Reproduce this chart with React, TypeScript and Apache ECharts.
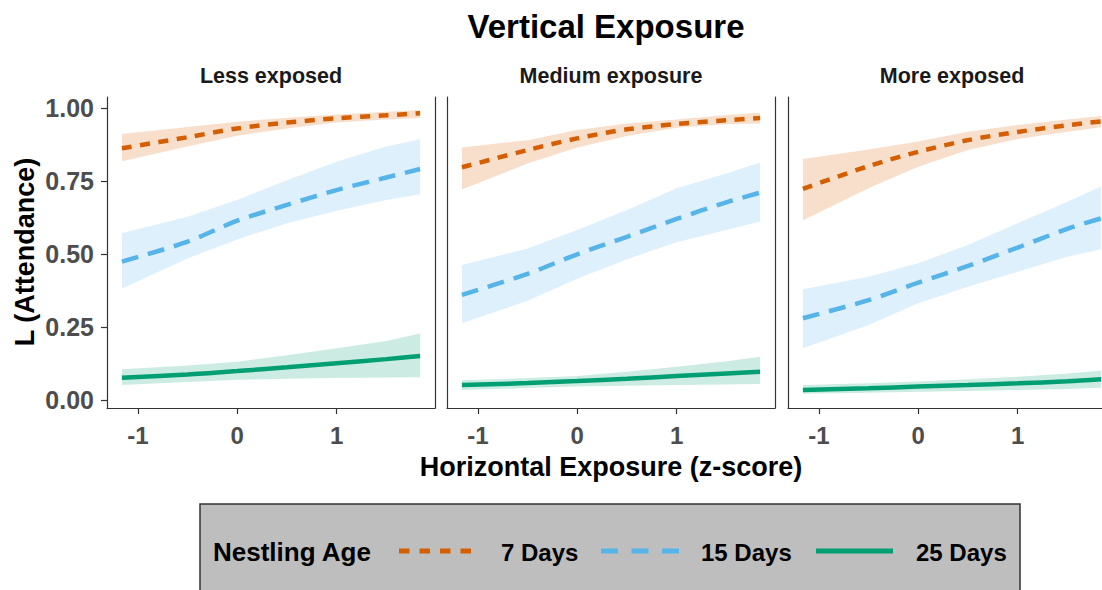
import React, { useEffect, useRef } from "react";
import * as echarts from "echarts";

const FONT = "'Liberation Sans', Arial, Helvetica, sans-serif";

const panelNames = ["Less exposed", "Medium exposure", "More exposed"];
const ageNames = ["7 Days", "15 Days", "25 Days"];
const ageColors = ["#D55E00", "#56B4E9", "#009E73"];
const yTicks = [0, 0.25, 0.5, 0.75, 1];
const xTicks = [-1, 0, 1];

// Horizontal exposure (z-score) at which the fitted curves are evaluated
const hExposure = [-1.16, -0.5, 0, 0.5, 1, 1.5, 1.84];

// Less exposed
const lessFit7 = [0.862, 0.9, 0.93, 0.95, 0.965, 0.975, 0.982];
const lessLo7 = [0.818, 0.868, 0.905, 0.93, 0.95, 0.961, 0.966];
const lessHi7 = [0.911, 0.935, 0.953, 0.967, 0.978, 0.987, 0.993];
const lessFit15 = [0.474, 0.542, 0.614, 0.668, 0.719, 0.762, 0.791];
const lessLo15 = [0.382, 0.485, 0.55, 0.605, 0.648, 0.685, 0.705];
const lessHi15 = [0.571, 0.628, 0.685, 0.753, 0.816, 0.868, 0.893];
const lessFit25 = [0.076, 0.087, 0.099, 0.112, 0.126, 0.14, 0.151];
const lessLo25 = [0.051, 0.062, 0.069, 0.073, 0.075, 0.077, 0.078];
const lessHi25 = [0.105, 0.118, 0.131, 0.153, 0.177, 0.202, 0.228];

// Medium exposure
const medFit7 = [0.797, 0.856, 0.896, 0.927, 0.945, 0.958, 0.966];
const medLo7 = [0.721, 0.81, 0.865, 0.904, 0.932, 0.944, 0.947];
const medHi7 = [0.865, 0.89, 0.925, 0.947, 0.961, 0.976, 0.984];
const medFit15 = [0.36, 0.432, 0.499, 0.559, 0.62, 0.677, 0.71];
const medLo15 = [0.263, 0.34, 0.415, 0.482, 0.54, 0.582, 0.611];
const medHi15 = [0.462, 0.519, 0.582, 0.651, 0.725, 0.776, 0.813];
const medFit25 = [0.051, 0.058, 0.065, 0.073, 0.082, 0.091, 0.097];
const medLo25 = [0.034, 0.041, 0.046, 0.049, 0.051, 0.053, 0.055];
const medHi25 = [0.068, 0.075, 0.082, 0.097, 0.114, 0.133, 0.148];

// More exposed
const moreFit7 = [0.723, 0.801, 0.85, 0.89, 0.918, 0.941, 0.954];
const moreLo7 = [0.616, 0.725, 0.799, 0.856, 0.894, 0.919, 0.934];
const moreHi7 = [0.825, 0.858, 0.885, 0.919, 0.942, 0.961, 0.973];
const moreFit15 = [0.28, 0.342, 0.402, 0.459, 0.522, 0.586, 0.622];
const moreLo15 = [0.177, 0.257, 0.331, 0.388, 0.439, 0.491, 0.516];
const moreHi15 = [0.379, 0.422, 0.468, 0.531, 0.605, 0.679, 0.731];
const moreFit25 = [0.034, 0.04, 0.046, 0.051, 0.057, 0.064, 0.071];
const moreLo25 = [0.021, 0.025, 0.028, 0.031, 0.034, 0.038, 0.042];
const moreHi25 = [0.051, 0.057, 0.063, 0.071, 0.08, 0.091, 0.1];

const fits = [
  [lessFit7, lessFit15, lessFit25],
  [medFit7, medFit15, medFit25],
  [moreFit7, moreFit15, moreFit25],
];
const lows = [
  [lessLo7, lessLo15, lessLo25],
  [medLo7, medLo15, medLo25],
  [moreLo7, moreLo15, moreLo25],
];
const highs = [
  [lessHi7, lessHi15, lessHi25],
  [medHi7, medHi15, medHi25],
  [moreHi7, moreHi15, moreHi25],
];

// Facet geometry (the third facet runs past the right edge of the view)
const VIEW_W = 1102;
const VIEW_H = 590;
const CANVAS_W = 1124;
const PANEL_LEFT = [107, 447, 788];
const PANEL_W = 328;
const PANEL_TOP = 97;
const PANEL_H = 311;
const X_MIN = -1.31;
const X_MAX = 1.99;
const Y_MIN = -0.0274;
const Y_MAX = 1.0377;

const AXIS_COLOR = "#333333";
const lineDashes: (number[] | "solid")[] = [[10, 8.5], [17, 10], "solid"];

function buildOption(): any {
  const grid = PANEL_LEFT.map((left) => ({
    left,
    top: PANEL_TOP,
    width: PANEL_W,
    height: PANEL_H,
    show: false,
  }));

  const xAxis = PANEL_LEFT.map((_, i) => ({
    type: "value",
    gridIndex: i,
    min: X_MIN,
    max: X_MAX,
    axisLine: { show: true, onZero: false, lineStyle: { color: AXIS_COLOR, width: 1.2 } },
    axisTick: {
      show: true,
      customValues: xTicks,
      length: 6,
      lineStyle: { color: AXIS_COLOR, width: 1.2 },
    },
    axisLabel: {
      customValues: xTicks,
      formatter: (v: number) => String(v),
      color: "#4D4D4D",
      fontFamily: FONT,
      fontWeight: "bold",
      fontSize: 24,
      margin: 15,
    },
    splitLine: { show: false },
  }));

  const yAxis: any[] = PANEL_LEFT.map((_, i) => ({
    type: "value",
    gridIndex: i,
    min: Y_MIN,
    max: Y_MAX,
    axisLine: { show: true, onZero: false, lineStyle: { color: AXIS_COLOR, width: 1.2 } },
    axisTick: {
      show: i === 0,
      customValues: yTicks,
      length: 6,
      lineStyle: { color: AXIS_COLOR, width: 1.2 },
    },
    axisLabel: {
      show: i === 0,
      customValues: yTicks,
      formatter: (v: number) => v.toFixed(2),
      color: "#4D4D4D",
      fontFamily: FONT,
      fontWeight: "bold",
      fontSize: 25,
      margin: 13,
    },
    splitLine: { show: false },
  }));
  // right-hand frame lines of the first two facets
  [0, 1].forEach((i) => {
    yAxis.push({
      type: "value",
      gridIndex: i,
      position: "right",
      min: Y_MIN,
      max: Y_MAX,
      axisLine: { show: true, onZero: false, lineStyle: { color: AXIS_COLOR, width: 1.2 } },
      axisTick: { show: false },
      axisLabel: { show: false },
      splitLine: { show: false },
    });
  });

  const series: any[] = [];
  // confidence ribbons
  PANEL_LEFT.forEach((_, pi) => {
    ageNames.forEach((age, ai) => {
      const color = ageColors[ai];
      series.push({
        type: "custom",
        name: age + " band",
        xAxisIndex: pi,
        yAxisIndex: pi,
        silent: true,
        z: 1,
        data: hExposure.map((x, k) => [x, lows[pi][ai][k], highs[pi][ai][k]]),
        renderItem: (params: any, api: any) => {
          if (params.dataIndexInside !== 0) return null;
          const n = params.dataInsideLength;
          const upper: number[][] = [];
          const lower: number[][] = [];
          for (let k = 0; k < n; k++) {
            const x = api.value(0, k);
            upper.push(api.coord([x, api.value(2, k)]));
            lower.push(api.coord([x, api.value(1, k)]));
          }
          return {
            type: "polygon",
            shape: { points: upper.concat(lower.reverse()) },
            style: { fill: color, opacity: 0.2 },
            silent: true,
          };
        },
      });
    });
  });
  // fitted curves
  PANEL_LEFT.forEach((_, pi) => {
    ageNames.forEach((age, ai) => {
      series.push({
        type: "line",
        name: age,
        xAxisIndex: pi,
        yAxisIndex: pi,
        z: 3,
        symbol: "none",
        smooth: 0.3,
        lineStyle: {
          color: ageColors[ai],
          width: 4.5,
          type: lineDashes[ai],
          cap: "butt",
        },
        data: hExposure.map((x, k) => [x, fits[pi][ai][k]]),
      });
    });
  });

  const legendY = 551;
  const legendKeys = [
    { x1: 399, x2: 471, dash: [10.5, 10] },
    { x1: 601, x2: 679, dash: [17, 13.5] },
    { x1: 816, x2: 893, dash: null },
  ];
  const legendTextX = [501, 701, 916];

  const graphic: any[] = [
    {
      type: "text",
      x: 606,
      y: 26,
      style: {
        text: "Vertical Exposure",
        font: `bold 33px ${FONT}`,
        fill: "#000",
        align: "center",
        verticalAlign: "middle",
      },
    },
    ...panelNames.map((name, i) => ({
      type: "text",
      x: PANEL_LEFT[i] + PANEL_W / 2,
      y: 76,
      style: {
        text: name,
        font: `bold 21.5px ${FONT}`,
        fill: "#1A1A1A",
        align: "center",
        verticalAlign: "middle",
      },
    })),
    {
      type: "text",
      x: 611,
      y: 467,
      style: {
        text: "Horizontal Exposure (z-score)",
        font: `bold 27px ${FONT}`,
        fill: "#000",
        align: "center",
        verticalAlign: "middle",
      },
    },
    {
      type: "text",
      x: 25,
      y: 252,
      rotation: Math.PI / 2,
      style: {
        text: "L (Attendance)",
        font: `bold 27px ${FONT}`,
        fill: "#000",
        align: "center",
        verticalAlign: "middle",
      },
    },
    {
      type: "rect",
      shape: { x: 200, y: 504, width: 820, height: 110 },
      style: { fill: "#BEBEBE", stroke: "#333333", lineWidth: 1.5 },
    },
    {
      type: "text",
      x: 213,
      y: legendY + 1,
      style: {
        text: "Nestling Age",
        font: `bold 26px ${FONT}`,
        fill: "#000",
        align: "left",
        verticalAlign: "middle",
      },
    },
    ...legendKeys.map((k, i) => ({
      type: "line",
      shape: { x1: k.x1, y1: legendY, x2: k.x2, y2: legendY },
      style: {
        stroke: ageColors[i],
        lineWidth: 5,
        lineDash: k.dash || undefined,
        lineCap: "butt",
      },
    })),
    ...ageNames.map((age, i) => ({
      type: "text",
      x: legendTextX[i],
      y: legendY + 1,
      style: {
        text: age,
        font: `bold 24px ${FONT}`,
        fill: "#000",
        align: "left",
        verticalAlign: "middle",
      },
    })),
  ];

  return {
    animation: false,
    backgroundColor: "#FFFFFF",
    grid,
    xAxis,
    yAxis,
    series,
    graphic,
  };
}

export default function App() {
  const ref = useRef<HTMLDivElement>(null);
  useEffect(() => {
    if (!ref.current) return;
    const chart = echarts.init(ref.current, undefined, { renderer: "svg" });
    chart.setOption(buildOption());
    return () => chart.dispose();
  }, []);
  return (
    <div
      style={{
        position: "absolute",
        left: 0,
        top: 0,
        width: VIEW_W,
        height: VIEW_H,
        overflow: "hidden",
        background: "#FFFFFF",
      }}
    >
      <div ref={ref} style={{ width: CANVAS_W, height: VIEW_H }} />
    </div>
  );
}
